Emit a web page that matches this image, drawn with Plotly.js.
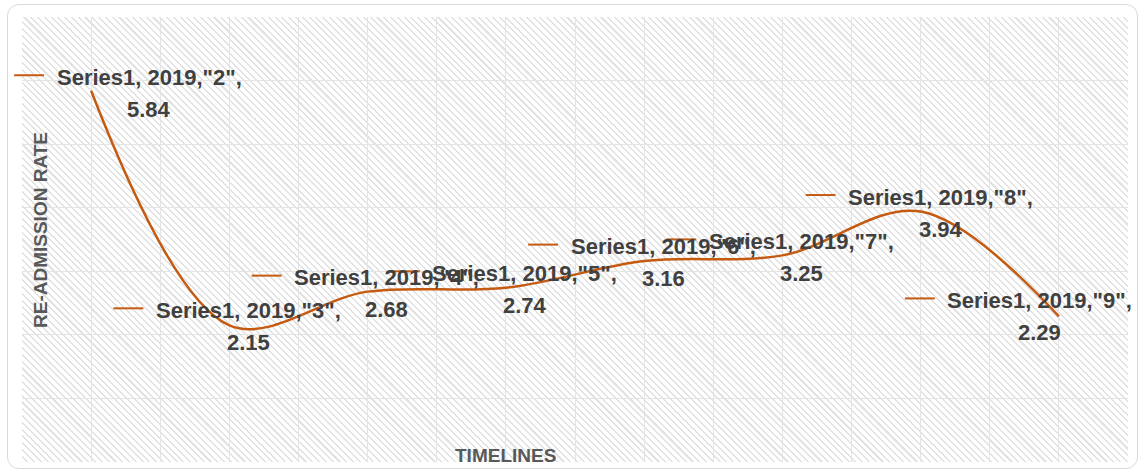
<!DOCTYPE html>
<html>
<head>
<meta charset="utf-8">
<script src="https://cdn.plot.ly/plotly-3.0.1.min.js"></script>
<style>
  html, body { margin: 0; padding: 0; background: #ffffff; }
  #wrap { position: relative; width: 1140px; height: 472px; overflow: hidden; }
  #frame { position: absolute; left: 7px; top: 4px; width: 1131px; height: 465px;
           border: 1px solid #d9d9d9; border-radius: 12px; box-sizing: border-box; }
  #hatch { position: absolute; left: 22px; top: 17px; width: 1106px; height: 445px;
           background: repeating-linear-gradient(45deg, #ffffff 0px, #ffffff 3.3px, #e2e2e2 3.3px, #e2e2e2 4.8px); }
  #chart { position: absolute; left: 0; top: 0; width: 1140px; height: 472px; }
</style>
</head>
<body>
<div id="wrap">
  <div id="frame"></div>
  <div id="hatch"></div>
  <div id="chart"></div>
</div>
<script>
// ---- data ----
const seriesName = "Series1";
const yearLabel = "2019";
const categories = ["2", "3", "4", "5", "6", "7", "8", "9"];
const values = [5.84, 2.15, 2.68, 2.74, 3.16, 3.25, 3.94, 2.29];
const xTitle = "TIMELINES";
const yTitle = "RE-ADMISSION RATE";

// ---- label placement (pixels, relative to each point) ----
const labelDx = [58, 19, 19, 19, 19, 19, 20, -19];
const labelDy = [2.5, 1, 2, 1.5, 1.5, 2, 1.5, 0];

const lineColor = "#C55A11";
const xPos = categories.map((c, i) => i + 1);

const trace = {
  x: xPos,
  y: values,
  type: "scatter",
  mode: "lines",
  line: { color: lineColor, width: 2.5, shape: "spline", smoothing: 1.0 },
  hoverinfo: "skip",
  showlegend: false
};

const fontFamily = "'Liberation Sans', Arial, sans-serif";
const labelFont = { family: fontFamily, size: 22, color: "#404040", weight: 700 };
const annotations = [];
const shapes = [];
categories.forEach((c, i) => {
  const dx = labelDx[i], dy = labelDy[i];
  annotations.push({
    x: xPos[i], y: values[i], xref: "x", yref: "y",
    text: "<b>" + seriesName + ", " + yearLabel + ',"' + c + '",</b>',
    showarrow: false, xanchor: "center", yanchor: "middle",
    xshift: dx, yshift: -dy + 16, font: labelFont
  });
  annotations.push({
    x: xPos[i], y: values[i], xref: "x", yref: "y",
    text: "<b>" + values[i].toFixed(2) + "</b>",
    showarrow: false, xanchor: "center", yanchor: "middle",
    xshift: dx, yshift: -dy - 16, font: labelFont
  });
  shapes.push({
    type: "line", layer: "above",
    xref: "x", xsizemode: "pixel", xanchor: xPos[i], x0: dx - 135, x1: dx - 105,
    yref: "y", ysizemode: "pixel", yanchor: values[i], y0: -dy + 18, y1: -dy + 18,
    line: { color: lineColor, width: 2 }
  });
});

const titleFont = { family: fontFamily, size: 19, color: "#595959", weight: 700 };
annotations.push({
  xref: "paper", yref: "paper", x: (505 - 22) / 1106, y: (462 - 455) / 445,
  text: "<b>" + xTitle + "</b>", showarrow: false, xanchor: "center", yanchor: "middle",
  font: titleFont
});
annotations.push({
  xref: "paper", yref: "paper", x: (40 - 22) / 1106, y: (462 - 230) / 445,
  text: "<b>" + yTitle + "</b>", showarrow: false, xanchor: "center", yanchor: "middle",
  textangle: -90, font: titleFont
});

const layout = {
  width: 1140, height: 472,
  margin: { l: 22, r: 12, t: 17, b: 10, pad: 0 },
  paper_bgcolor: "rgba(0,0,0,0)",
  plot_bgcolor: "rgba(0,0,0,0)",
  showlegend: false,
  xaxis: {
    range: [0.5, 8.5], tick0: 0.5, dtick: 0.5,
    showgrid: true, gridcolor: "#e4e4e4", gridwidth: 1,
    zeroline: false, showline: false, showticklabels: false, ticks: ""
  },
  yaxis: {
    range: [0, 7], tick0: 0, dtick: 1,
    showgrid: true, gridcolor: "#e4e4e4", gridwidth: 1,
    zeroline: false, showline: false, showticklabels: false, ticks: ""
  },
  annotations: annotations,
  shapes: shapes
};

function unclipShapes() {
  document.querySelectorAll("#chart .shapelayer, #chart .shapelayer *").forEach(function (el) {
    if (el.hasAttribute("clip-path")) el.removeAttribute("clip-path");
    if (el.style && el.style.clipPath) el.style.clipPath = "";
  });
}
Plotly.newPlot("chart", [trace], layout, { staticPlot: true, displayModeBar: false }).then(function () {
  // let the label leader dashes extend past the plot edge, as in the original
  unclipShapes();
  setTimeout(unclipShapes, 0);
});
</script>
</body>
</html>
